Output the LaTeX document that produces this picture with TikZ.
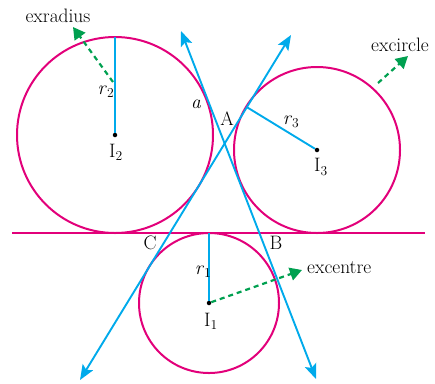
\documentclass[tikz,border=0pt]{standalone}
\usepackage{fontspec}
\usetikzlibrary{arrows.meta,calc}
\definecolor{mag}{RGB}{226,0,122}
\definecolor{sky}{RGB}{0,170,235}
\definecolor{grn}{RGB}{0,160,80}
\tikzset{
  excirc/.style={draw=mag,line width=2bp},
  sideline/.style={draw=sky,line width=1.9bp,{Stealth[length=15bp,width=12bp,inset=3bp]}-{Stealth[length=15bp,width=12bp,inset=3bp]}},
  radline/.style={draw=sky,line width=1.9bp},
  pointer/.style={draw=grn,line width=2.2bp,dash pattern=on 5bp off 4bp,-{Triangle[length=12bp,width=13bp]}},
  lab/.style={font=\fontsize{19.5}{23}\selectfont,inner sep=0pt},
  ctr/.style={circle,fill=black,inner sep=0pt,minimum size=4.5bp}
}
\newcommand{\sbs}[1]{\textsubscript{#1}}
\begin{document}
\begin{tikzpicture}[x=1bp,y=-1bp]
\useasboundingbox (0,0) rectangle (435,383);
% centres
\node[ctr] (I2) at (115,135) {};
\node[ctr] (I3) at (317,150) {};
\node[ctr] (I1) at (209,303) {};
% circles
\draw[excirc] (I2) circle[radius=98];
\draw[excirc] (I3) circle[radius=83];
\draw[excirc] (I1) circle[radius=70];
% base line
\coordinate (BL) at (12,233);
\coordinate (BR) at (425,233);
\draw[excirc] (BL) -- (BR);
% sides
\coordinate (P1) at (80,380);
\coordinate (P2) at (291,35);
\coordinate (Q1) at (181,31);
\coordinate (Q2) at (316,379);
\draw[sideline] (P1) -- (P2);
\draw[sideline] (Q1) -- (Q2);
% radii
\coordinate (T2) at (115,37);
\coordinate (T1) at (209,233);
\coordinate (T3) at ($(P1)!(I3)!(P2)$);
\draw[radline] (I2) -- (T2);
\draw[radline] (I1) -- (T1);
\draw[radline] (I3) -- (T3);
% pointers
\coordinate (E2s) at (113,82);
\coordinate (E2t) at (73,27);
\coordinate (E3s) at (378,83);
\coordinate (E3t) at (408,56);
\coordinate (E1t) at (302,270);
\draw[pointer] (E2s) -- (E2t);
\draw[pointer] (E3s) -- (E3t);
\draw[pointer] (I1) -- (E1t);
% labels
\node[lab] (lexr) at (58,16) {exradius};
\node[lab] (lexc) at (400,45) {excircle};
\node[lab,anchor=west] (lexn) at (307,268) {excentre};
\node[lab] (lr2) at (106,92) {\textit{r}\sbs{2}};
\node[lab] (lr3) at (291,122) {\textit{r}\sbs{3}};
\node[lab] (lr1) at (203,272) {\textit{r}\sbs{1}};
\node[lab] (lI2) at (116,152) {I\sbs{2}};
\node[lab] (lI3) at (321,167) {I\sbs{3}};
\node[lab] (lI1) at (211,321) {I\sbs{1}};
\node[lab] (la) at (196,104) {\textit{a}};
\node[lab] (lA) at (227,119) {A};
\node[lab] (lC) at (150,243) {C};
\node[lab] (lB) at (276,243) {B};
\end{tikzpicture}
\end{document}
